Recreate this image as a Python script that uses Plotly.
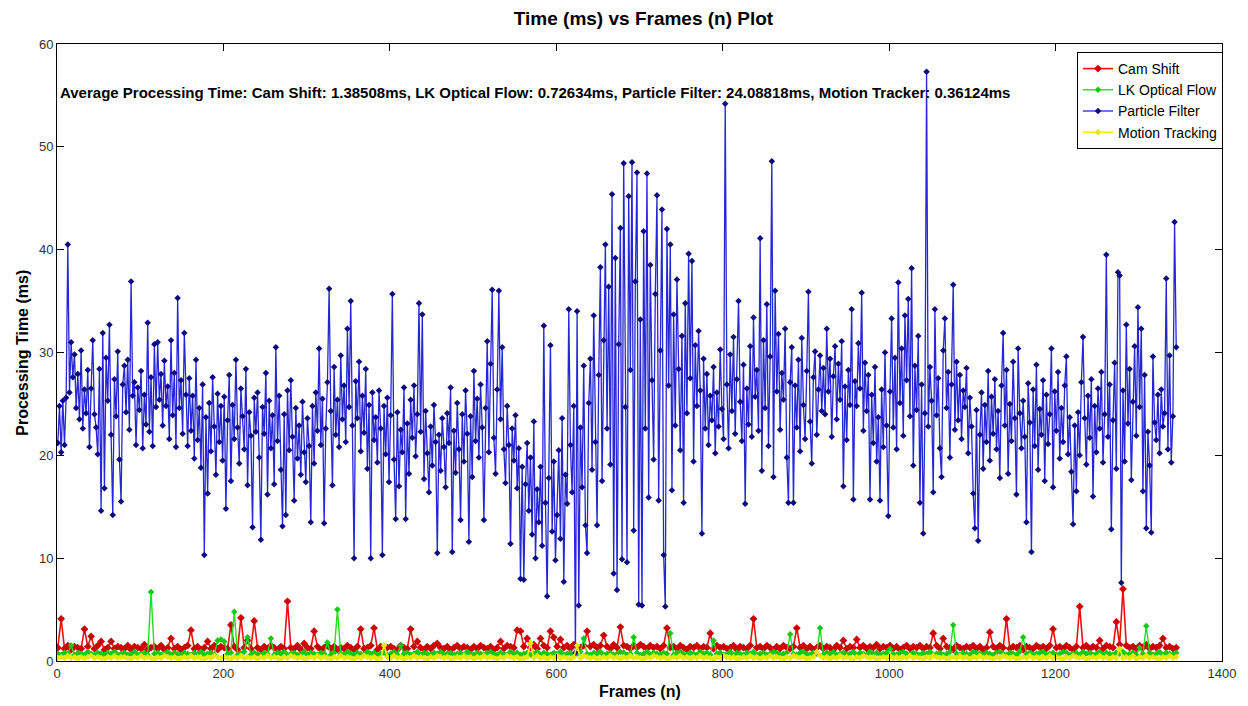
import plotly.graph_objects as go

# ---------------- data ----------------
# Particle Filter processing time (ms), one value every 2 frames (frames 1,3,...,1345)
particle_filter = [
    21.2, 24.8, 20.3, 25.3, 21.0, 25.6, 40.5, 26.1, 31.0, 27.6, 29.8, 24.6, 27.9, 23.5, 30.2, 22.6, 26.4, 24.1, 28.3, 20.8,
    26.5, 31.2, 24.0, 22.7, 20.1, 28.4, 14.6, 31.9, 16.8, 29.5, 25.3, 32.7, 22.0, 14.2, 27.4, 23.8, 30.1, 19.6, 15.5, 26.9,
    28.7, 24.2, 29.3, 22.5, 36.9, 25.8, 27.1, 21.0, 26.6, 24.4, 28.2, 20.7, 25.9, 23.0, 32.9, 22.3, 27.6, 20.9, 30.8, 24.7,
    31.0, 25.4, 27.9, 22.9, 29.2, 24.8, 26.7, 21.6, 31.2, 23.9, 28.0, 20.8, 35.3, 24.6, 27.3, 22.1, 31.9, 25.9, 20.9, 27.5,
    22.4, 25.8, 19.7, 29.3, 21.5, 24.6, 18.8, 26.9, 10.3, 23.7, 16.3, 25.1, 20.4, 27.6, 22.8, 18.1, 26.0, 21.3, 24.8, 19.5,
    25.7, 14.8, 23.4, 27.8, 17.5, 24.9, 21.6, 29.3, 22.7, 19.2, 26.5, 23.8, 20.6, 28.4, 17.1, 24.2, 21.9, 13.0, 25.6, 22.3,
    26.1, 19.8, 11.8, 24.7, 22.1, 28.0, 16.2, 25.3, 20.7, 23.9, 17.2, 30.5, 21.4, 25.8, 18.6, 13.1, 24.0, 14.2, 26.3, 20.5,
    27.3, 21.8, 15.6, 24.6, 19.7, 22.9, 18.1, 25.2, 20.3, 17.4, 23.6, 20.9, 13.5, 24.8, 19.2, 26.1, 22.4, 30.4, 21.0, 25.5,
    13.4, 22.6, 27.1, 36.2, 24.3, 17.1, 28.6, 22.0, 25.4, 20.8, 29.7, 23.5, 26.8, 21.3, 32.3, 24.7, 35.0, 22.9, 10.0, 27.2,
    23.6, 29.1, 20.4, 25.8, 22.2, 28.4, 18.7, 24.9, 10.0, 26.1, 21.5, 23.7, 19.3, 26.3, 22.6, 10.3, 24.8, 20.1, 25.6, 17.4,
    23.9, 35.7, 19.6, 13.8, 24.2, 17.0, 22.5, 20.3, 26.6, 13.8, 23.1, 18.2, 25.4, 21.7, 26.8, 19.9, 24.0, 34.8, 22.3, 33.7,
    17.7, 24.3, 20.2, 16.4, 22.8, 19.0, 24.9, 21.3, 10.5, 22.0, 18.5, 23.6, 20.8, 16.9, 24.1, 21.2, 26.6, 10.6, 22.4, 18.3,
    25.1, 20.6, 13.7, 24.0, 19.4, 26.3, 22.1, 11.6, 23.8, 17.9, 28.2, 21.4, 25.5, 19.8, 26.9, 22.7, 13.7, 24.6, 31.1, 20.3,
    28.9, 36.1, 21.7, 18.2, 26.4, 36.0, 23.5, 30.5, 20.6, 17.3, 24.8, 21.0, 11.4, 22.6, 19.5, 23.9, 16.8, 20.7, 8.0, 18.9,
    7.9, 17.2, 21.2, 14.6, 19.8, 12.3, 23.3, 10.0, 16.7, 13.5, 18.9, 11.2, 32.6, 15.4, 6.3, 17.8, 30.7, 12.6, 19.4, 9.8,
    14.2, 20.5, 11.9, 23.6, 7.7, 18.1, 15.3, 34.2, 21.0, 16.4, 24.8, 0.8, 34.0, 5.4, 22.7, 16.9, 28.7, 13.2, 10.5, 25.1,
    29.4, 18.6, 33.6, 21.3, 13.2, 27.8, 38.3, 17.5, 31.2, 40.5, 22.6, 36.4, 19.1, 45.4, 8.5, 39.2, 6.9, 30.8, 42.1, 9.9,
    48.4, 24.7, 9.6, 45.2, 28.3, 48.5, 12.7, 36.9, 47.5, 5.5, 33.2, 5.4, 41.8, 22.6, 47.4, 15.9, 38.5, 27.3, 19.6, 35.7,
    45.3, 15.6, 30.2, 43.9, 10.3, 5.3, 42.0, 26.8, 40.5, 16.6, 33.7, 22.9, 37.1, 28.4, 20.5, 31.6, 15.4, 34.8, 24.1, 39.6,
    27.5, 38.9, 19.4, 30.7, 24.8, 32.1, 26.3, 12.4, 29.4, 22.6, 27.9, 21.0, 25.8, 23.4, 28.6, 20.2, 26.1, 22.8, 30.3, 24.5,
    21.6, 54.2, 26.9, 20.7, 29.8, 24.3, 31.5, 22.1, 27.4, 35.0, 25.2, 21.4, 28.8, 15.3, 26.5, 23.0, 30.6, 21.8, 33.4, 25.7,
    28.3, 22.4, 41.1, 18.5, 31.2, 24.6, 34.7, 20.9, 29.6, 48.6, 17.9, 36.0, 26.2, 31.8, 22.5, 28.0, 25.4, 32.3, 19.8, 15.4,
    27.1, 30.5, 15.4, 26.8, 22.7, 29.3, 20.4, 31.4, 24.9, 21.6, 28.2, 35.9, 23.3, 19.2, 27.6, 30.1, 22.0, 26.4, 29.7, 24.3,
    28.5, 24.0, 32.3, 26.2, 29.4, 21.8, 27.7, 30.6, 23.5, 28.9, 25.4, 31.1, 17.0, 26.7, 21.5, 28.3, 24.9, 34.2, 15.7, 27.2,
    24.8, 30.9, 26.5, 35.8, 22.4, 29.0, 24.3, 27.8, 15.7, 25.9, 21.2, 28.6, 19.4, 23.7, 15.6, 26.4, 20.8, 30.0, 22.9, 14.1,
    26.2, 33.3, 22.7, 29.5, 20.6, 36.8, 25.1, 30.4, 21.9, 33.6, 27.3, 35.2, 23.8, 38.2, 19.0, 28.7, 24.4, 31.6, 15.4, 26.9,
    12.4, 24.1, 57.3, 22.8, 28.6, 25.3, 16.4, 34.2, 23.9, 27.5, 20.7, 17.9, 30.2, 33.3, 24.6, 28.1, 19.8, 26.9, 36.6, 22.5,
    29.1, 23.4, 27.8, 21.6, 26.3, 24.7, 28.5, 20.2, 25.6, 22.8, 16.3, 12.9, 24.4, 11.7, 22.0, 26.1, 18.7, 24.9, 21.3, 28.2,
    19.5, 25.7, 22.1, 27.4, 20.6, 24.3, 17.8, 26.8, 31.9, 22.9, 28.3, 18.2, 25.0, 21.4, 29.1, 23.6, 16.2, 30.4, 24.1, 20.7,
    25.3, 21.8, 13.5, 27.0, 23.2, 10.6, 26.4, 20.9, 28.8, 18.6, 24.5, 22.0, 27.3, 17.5, 25.9, 21.1, 24.0, 30.4, 16.9, 26.2,
    22.4, 28.1, 19.7, 24.6, 21.3, 26.8, 29.6, 20.1, 23.7, 18.4, 13.3, 22.9, 16.5, 24.2, 20.0, 27.1, 31.5, 23.6, 19.1, 25.8,
    21.7, 27.4, 16.0, 24.8, 20.3, 26.5, 22.6, 28.1, 19.3, 24.0, 39.5, 21.8, 26.9, 12.8, 23.4, 29.0, 18.7, 37.8, 37.5, 7.6,
    26.3, 19.4, 32.7, 23.1, 28.4, 17.6, 25.2, 30.6, 21.9, 34.4, 24.7, 32.3, 16.5, 27.8, 12.9, 22.3, 19.0, 12.5, 29.6, 23.2,
    21.5, 25.9, 20.2, 26.4, 22.8, 24.1, 37.2, 20.6, 29.7, 19.3, 23.8, 42.7, 30.5,
]

# Cam Shift / LK Optical Flow / Motion Tracking (ms), one value every 4 frames (frames 1,5,...,1345)
cam_shift = [
    1.3, 4.1, 1.2, 1.5, 1.1, 1.4, 1.3, 1.2, 3.1, 1.4, 2.4, 1.2, 1.5, 1.9, 1.1, 1.3, 1.9, 1.2, 1.4, 1.3,
    1.2, 1.5, 1.1, 1.4, 1.3, 1.2, 1.6, 1.1, 1.3, 1.4, 1.2, 1.5, 1.1, 1.3, 2.2, 1.2, 1.4, 1.1, 1.3, 1.5,
    3.0, 1.2, 1.4, 1.1, 1.3, 1.9, 1.2, 1.5, 1.1, 1.4, 1.3, 1.2, 3.5, 1.4, 1.1, 4.2, 1.3, 2.0, 1.2, 3.9,
    1.3, 1.1, 1.4, 1.2, 1.5, 1.3, 1.1, 1.4, 1.2, 5.8, 1.3, 1.2, 1.5, 1.1, 1.7, 1.3, 1.2, 2.9, 1.4, 1.1,
    1.3, 1.5, 1.2, 1.4, 1.1, 1.3, 1.2, 1.5, 1.3, 1.1, 1.4, 3.1, 1.2, 1.3, 1.5, 3.2, 1.1, 1.4, 1.2, 1.3,
    1.4, 1.2, 1.1, 1.5, 1.3, 1.2, 3.1, 1.4, 1.9, 1.3, 1.1, 1.4, 1.2, 1.5, 1.7, 1.3, 1.2, 1.4, 1.1, 1.3,
    1.5, 1.2, 1.4, 1.3, 1.1, 1.4, 1.2, 1.5, 1.3, 1.2, 1.4, 1.1, 1.3, 1.9, 1.2, 1.5, 1.4, 1.3, 3.0, 2.9,
    1.4, 2.2, 1.3, 1.6, 1.2, 2.2, 1.5, 1.3, 2.9, 2.3, 1.4, 2.1, 1.3, 1.5, 1.2, 1.6, 1.4, 1.3, 1.5, 2.9,
    1.4, 1.6, 1.3, 1.5, 2.5, 1.4, 1.2, 1.6, 1.3, 3.3, 1.5, 1.4, 1.2, 1.5, 1.3, 1.6, 1.4, 1.2, 1.5, 1.3,
    1.4, 1.2, 1.5, 3.2, 1.3, 1.4, 1.2, 1.5, 1.3, 1.1, 1.4, 1.3, 1.5, 1.2, 1.4, 1.3, 2.7, 1.2, 1.5, 1.3,
    1.4, 1.2, 1.3, 1.5, 1.1, 1.4, 1.3, 1.2, 1.5, 4.1, 1.3, 1.4, 1.2, 1.5, 1.3, 1.1, 1.4, 1.2, 1.5, 1.3,
    1.2, 1.4, 3.2, 1.3, 1.5, 1.2, 1.4, 1.1, 1.3, 1.5, 1.2, 1.4, 1.3, 1.1, 1.5, 1.3, 2.0, 1.2, 1.4, 1.3,
    2.1, 1.3, 1.5, 1.2, 1.4, 1.3, 1.6, 1.2, 1.4, 1.3, 1.5, 1.2, 1.4, 1.1, 1.3, 1.5, 1.2, 1.4, 1.3, 1.5,
    1.2, 1.4, 1.3, 2.7, 1.5, 1.2, 2.2, 1.4, 1.3, 1.1, 1.5, 1.3, 1.2, 1.4, 1.3, 1.5, 1.2, 1.4, 1.1, 1.3,
    2.8, 1.4, 1.2, 1.5, 1.3, 4.1, 1.2, 1.4, 1.3, 1.5, 1.1, 1.4, 1.3, 1.2, 1.5, 1.3, 1.4, 1.2, 1.5, 3.1,
    1.3, 1.4, 1.2, 1.5, 1.3, 1.1, 1.4, 5.3, 1.3, 1.5, 1.2, 1.4, 1.3, 2.0, 1.2, 1.5, 1.4, 1.3, 3.8, 1.6,
    7.0, 1.5, 1.3, 1.4, 1.2, 1.5, 1.3, 1.6, 1.2, 1.4, 1.3, 1.5, 2.2, 1.3, 1.4, 1.2, 1.3,
]

lk_optical_flow = [
    0.7, 0.6, 0.8, 0.7, 1.5, 0.6, 0.8, 0.7, 0.6, 0.9, 0.7, 0.6, 0.8, 0.7, 0.6, 0.8, 0.7, 0.9, 0.6, 0.7,
    0.8, 0.6, 0.7, 0.9, 0.6, 0.7, 0.8, 0.6, 6.7, 0.7, 0.8, 0.6, 0.7, 0.9, 0.6, 0.8, 0.7, 0.6, 0.8, 0.7,
    0.6, 0.8, 0.7, 0.9, 0.6, 0.7, 0.8, 0.6, 2.0, 2.1, 1.9, 0.7, 0.8, 4.8, 0.6, 0.7, 0.9, 2.3, 0.6, 0.8,
    0.7, 0.6, 0.8, 0.7, 2.2, 0.6, 0.8, 0.7, 0.9, 0.6, 0.7, 0.8, 0.6, 0.7, 0.9, 0.6, 0.8, 0.7, 0.6, 0.8,
    0.7, 1.8, 0.6, 0.8, 5.0, 0.7, 0.6, 0.9, 0.7, 0.6, 0.8, 0.7, 0.6, 0.9, 0.7, 0.8, 0.6, 0.7, 0.8, 0.6,
    0.7, 0.9, 0.6, 1.5, 0.7, 0.8, 0.6, 0.7, 0.9, 0.6, 0.8, 0.7, 0.6, 0.8, 0.7, 0.9, 0.6, 0.7, 0.8, 0.6,
    0.7, 0.8, 0.6, 0.9, 0.7, 0.6, 0.8, 0.7, 0.6, 0.8, 0.9, 0.7, 0.6, 0.8, 0.7, 0.6, 0.9, 0.7, 0.8, 0.6,
    0.7, 0.8, 0.6, 0.7, 0.9, 0.6, 0.8, 0.7, 0.6, 0.8, 0.7, 0.9, 0.6, 0.7, 0.8, 0.6, 0.7, 0.9, 2.2, 0.7,
    0.6, 0.8, 0.7, 0.9, 0.6, 0.7, 0.8, 0.6, 0.7, 0.9, 0.8, 0.6, 0.7, 2.3, 0.8, 0.6, 0.7, 0.9, 0.6, 0.8,
    0.7, 0.6, 0.8, 0.7, 2.7, 0.6, 0.8, 0.9, 0.7, 0.6, 0.8, 0.7, 0.6, 0.9, 0.7, 0.8, 0.6, 2.0, 0.7, 0.8,
    0.6, 0.7, 0.9, 0.6, 0.8, 0.7, 0.6, 0.8, 0.7, 0.9, 0.6, 0.7, 0.8, 0.6, 0.7, 0.9, 0.8, 0.6, 0.7, 0.8,
    2.6, 0.7, 0.6, 0.8, 0.9, 0.7, 0.6, 0.8, 0.7, 3.2, 0.6, 0.8, 0.7, 0.9, 0.6, 0.7, 0.8, 0.6, 0.7, 0.9,
    0.6, 0.8, 0.7, 0.6, 0.9, 0.7, 0.8, 0.6, 0.7, 0.8, 1.2, 0.7, 0.6, 0.8, 0.9, 0.7, 0.6, 0.8, 0.7, 0.6,
    0.8, 0.7, 0.9, 0.6, 0.7, 0.8, 0.6, 0.7, 0.9, 3.5, 0.7, 0.6, 0.8, 0.7, 0.6, 0.9, 0.8, 0.7, 0.6, 0.8,
    0.7, 0.6, 0.8, 0.9, 0.7, 0.6, 0.8, 0.7, 0.6, 0.9, 2.3, 0.7, 0.8, 0.6, 0.7, 0.8, 0.9, 0.6, 0.7, 0.8,
    0.6, 0.7, 0.9, 0.8, 0.6, 0.7, 0.8, 0.6, 0.9, 0.7, 0.8, 0.6, 0.7, 0.9, 0.6, 0.8, 0.7, 0.6, 0.8, 0.7,
    0.9, 0.6, 0.7, 0.8, 0.6, 1.3, 0.7, 3.4, 0.8, 0.6, 0.7, 0.9, 0.6, 0.8, 0.7, 0.6, 0.8,
]

motion_tracking = [
    0.3, 0.4, 0.3, 0.5, 0.3, 0.4, 0.2, 0.4, 0.3, 0.4, 0.5, 0.3, 0.4, 0.3, 0.2, 0.4, 0.3, 0.5, 0.3, 0.4,
    0.4, 0.3, 0.2, 0.4, 0.3, 0.5, 0.3, 0.4, 0.3, 0.2, 0.4, 0.3, 0.5, 0.4, 0.3, 0.4, 0.2, 0.3, 0.4, 0.3,
    0.5, 0.3, 0.4, 0.3, 0.2, 0.4, 0.3, 0.5, 0.4, 0.3, 0.4, 0.3, 0.2, 0.4, 0.3, 0.5, 0.3, 0.4, 0.3, 0.4,
    0.2, 0.4, 0.3, 0.5, 0.3, 0.4, 0.3, 0.2, 0.4, 0.3, 0.5, 0.4, 0.3, 0.4, 0.2, 0.3, 0.4, 0.3, 0.5, 0.3,
    0.4, 0.3, 0.2, 0.4, 0.3, 0.5, 0.3, 0.4, 0.3, 0.2, 0.4, 0.3, 0.5, 0.4, 0.3, 0.4, 0.2, 0.3, 1.5, 0.4,
    0.3, 0.5, 0.3, 0.4, 0.2, 0.4, 0.3, 0.5, 0.3, 0.4, 0.3, 0.2, 0.4, 0.3, 0.5, 0.4, 0.3, 0.4, 0.2, 0.3,
    0.4, 0.3, 0.5, 0.3, 0.4, 0.2, 0.4, 0.3, 0.5, 0.3, 0.4, 0.3, 0.2, 0.4, 0.3, 0.5, 0.4, 0.3, 0.4, 0.2,
    0.3, 0.4, 1.7, 0.3, 0.5, 0.3, 0.4, 0.2, 0.4, 0.3, 0.5, 0.3, 0.4, 0.3, 0.2, 0.4, 1.5, 0.3, 0.5, 0.4,
    0.3, 0.4, 0.2, 0.3, 0.4, 0.3, 0.5, 0.3, 0.4, 0.2, 0.4, 0.3, 0.5, 0.3, 0.4, 0.3, 0.2, 0.4, 0.3, 0.5,
    0.4, 0.3, 0.4, 0.2, 0.3, 0.4, 0.3, 0.5, 0.3, 0.4, 0.2, 0.4, 0.3, 0.5, 0.3, 0.4, 0.3, 0.2, 0.4, 0.3,
    0.5, 0.4, 0.3, 0.4, 0.2, 0.3, 0.4, 0.3, 0.5, 0.3, 0.4, 0.2, 0.4, 0.3, 0.5, 0.3, 0.4, 0.3, 0.2, 0.4,
    0.3, 0.5, 0.4, 0.3, 0.4, 0.2, 0.3, 0.4, 0.9, 0.5, 0.3, 0.4, 0.2, 0.4, 0.3, 0.5, 0.3, 0.4, 0.3, 0.2,
    0.4, 0.3, 0.5, 0.4, 0.3, 0.4, 0.2, 0.3, 0.4, 0.3, 0.5, 0.3, 0.4, 0.2, 0.4, 0.3, 0.5, 0.3, 0.4, 0.3,
    0.2, 0.4, 0.3, 0.5, 0.4, 0.3, 0.4, 0.2, 0.3, 0.4, 0.3, 0.5, 0.3, 0.4, 0.2, 0.4, 0.3, 0.5, 0.3, 0.4,
    0.3, 0.2, 0.4, 0.3, 0.5, 0.4, 0.3, 0.4, 0.2, 0.3, 0.4, 0.3, 0.5, 0.3, 0.4, 0.2, 0.4, 0.3, 0.5, 0.3,
    0.4, 0.3, 0.2, 0.4, 0.3, 0.5, 0.4, 0.3, 0.4, 0.2, 0.3, 0.4, 0.3, 0.5, 0.3, 0.4, 0.2, 0.4, 0.3, 1.2,
    0.3, 0.4, 0.3, 0.5, 0.2, 0.4, 0.3, 0.5, 0.3, 0.4, 0.3, 0.2, 0.4, 0.3, 0.5, 0.3, 0.4,
]

x_ticks = [0, 200, 400, 600, 800, 1000, 1200, 1400]
y_ticks = [0, 10, 20, 30, 40, 50, 60]
series_names = ["Cam Shift", "LK Optical Flow", "Particle Filter", "Motion Tracking"]
title_text = "Time (ms) vs Frames (n) Plot"
x_title = "Frames (n)"
y_title = "Processing Time (ms)"
avg_text = ("Average Processing Time: Cam Shift: 1.38508ms, LK Optical Flow: 0.72634ms, "
            "Particle Filter: 24.08818ms, Motion Tracker: 0.36124ms")

# frame indices
frames_pf = list(range(1, 2 * len(particle_filter), 2))
frames_cs = list(range(1, 4 * len(cam_shift), 4))
frames_lk = list(range(1, 4 * len(lk_optical_flow), 4))
frames_mt = list(range(1, 4 * len(motion_tracking), 4))

# ---------------- figure ----------------
W, H = 1248, 706
L, R, T, B = 57, 18, 44, 45
PW, PH = W - L - R, H - T - B

fig = go.Figure()

def add(xs, ys, name, lc, lw, mc, msize):
    fig.add_trace(go.Scatter(
        x=xs, y=ys, name=name, mode="lines+markers",
        line=dict(color=lc, width=lw),
        marker=dict(symbol="diamond", size=msize, color=mc, line=dict(width=0)),
    ))

add(frames_cs, cam_shift, series_names[0], "#ee1010", 1.6, "#cc0000", 6)
add(frames_lk, lk_optical_flow, series_names[1], "#22e022", 1.4, "#14c814", 5)
add(frames_pf, particle_filter, series_names[2], "#2626d6", 1.3, "#0a0a84", 5)
add(frames_mt, motion_tracking, series_names[3], "#f4f400", 1.6, "#e8e800", 5)

axis_common = dict(
    showgrid=False, zeroline=False, showline=True, linecolor="black", linewidth=1,
    mirror="ticks", ticks="inside", ticklen=7, tickcolor="black", tickwidth=1,
    tickfont=dict(family="Arial, Liberation Sans, sans-serif", size=13, color="#333333"),
)

fig.update_layout(
    width=W, height=H,
    margin=dict(l=L, r=R, t=T, b=B),
    paper_bgcolor="white", plot_bgcolor="white",
    showlegend=True,
    title=dict(text=title_text, x=(L + PW / 2) / W, xanchor="center",
               y=1 - 18 / H, yanchor="middle",
               font=dict(family="Arial, Liberation Sans, sans-serif", size=19, color="black", weight="bold")),
    xaxis=dict(range=[0, 1400], tickvals=x_ticks, **axis_common),
    yaxis=dict(range=[0, 60], tickvals=y_ticks, **axis_common),
    legend=dict(
        x=(1231 - L) / PW, xanchor="right",
        y=(H - B - 52) / PH, yanchor="top",
        bgcolor="white", bordercolor="black", borderwidth=1,
        font=dict(family="Arial, Liberation Sans, sans-serif", size=14, color="black"),
        tracegroupgap=0, itemwidth=30,
    ),
)

fig.add_annotation(
    text=avg_text, xref="x", yref="y", x=1, y=55.3, xanchor="left", yanchor="middle",
    showarrow=False,
    font=dict(family="Liberation Sans Narrow, Arial Narrow, Arial, sans-serif", size=15, color="black", weight="bold"),
)
fig.add_annotation(
    text=x_title, xref="paper", yref="paper", x=0.5, y=-(692 - (H - B)) / PH,
    xanchor="center", yanchor="middle", showarrow=False,
    font=dict(family="Arial, Liberation Sans, sans-serif", size=16, color="black", weight="bold"),
)
fig.add_annotation(
    text=y_title, xref="paper", yref="paper", x=-(L - 22) / PW, y=0.5,
    xanchor="center", yanchor="middle", showarrow=False, textangle=-90,
    font=dict(family="Arial, Liberation Sans, sans-serif", size=16, color="black", weight="bold"),
)

fig.write_html("out.html")
